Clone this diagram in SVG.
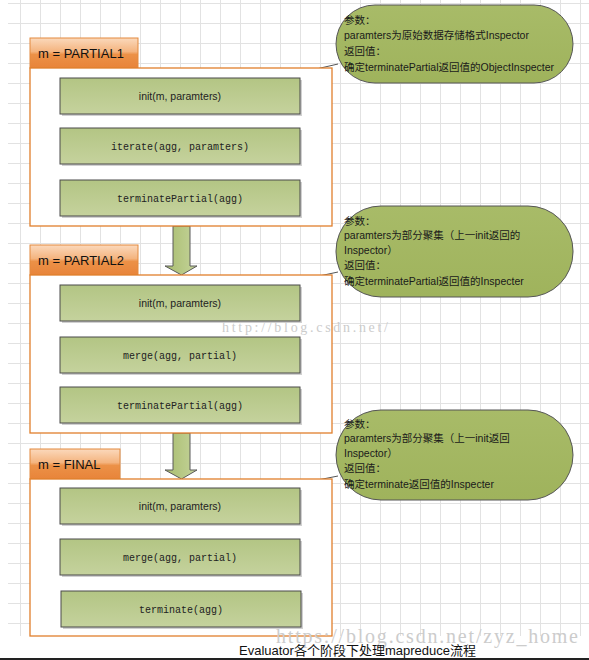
<svg xmlns="http://www.w3.org/2000/svg" width="589" height="660" viewBox="0 0 589 660">
<defs>
<pattern id="grid" x="0" y="3" width="20" height="20" patternUnits="userSpaceOnUse">
<path d="M0 0.5 H20 M0.5 0 V20" fill="none" stroke="#e2e2e2" stroke-width="1"/>
</pattern>
<linearGradient id="tabG" x1="0" y1="0" x2="0" y2="1">
<stop offset="0" stop-color="#fbd9bc"/>
<stop offset="0.45" stop-color="#f4b47f"/>
<stop offset="0.55" stop-color="#ec9147"/>
<stop offset="1" stop-color="#e8843a"/>
</linearGradient>
<linearGradient id="boxG" x1="0" y1="0" x2="0" y2="1">
<stop offset="0" stop-color="#b3c584"/>
<stop offset="1" stop-color="#c5d29d"/>
</linearGradient>
<linearGradient id="callG" x1="0" y1="0" x2="0" y2="1">
<stop offset="0" stop-color="#a8bb68"/>
<stop offset="1" stop-color="#9fb35c"/>
</linearGradient>
<linearGradient id="arrG" x1="0" y1="0" x2="1" y2="0">
<stop offset="0" stop-color="#a9bd6f"/>
<stop offset="1" stop-color="#c4d39a"/>
</linearGradient>
</defs>
<style>
.tab{fill:url(#tabG);stroke:#e38a3e;stroke-width:1}
.frame{fill:#ffffff;stroke:#e07f2c;stroke-width:1.3}
.tabt{font-family:"Liberation Sans","Noto Sans",sans-serif;font-size:13px;fill:#111}
.box{fill:url(#boxG);stroke:#4b4b4b;stroke-width:1}
.shadow{fill:#d0d0d0}
.mono{font-family:"Liberation Mono","DejaVu Sans Mono",monospace;font-size:10px;fill:#222;text-anchor:middle}
.sans{font-family:"Liberation Sans","Noto Sans",sans-serif;font-size:10.5px;fill:#222;text-anchor:middle}
.call{fill:url(#callG);stroke:#555;stroke-width:1}
.ct{font-family:"Liberation Sans","Noto Sans CJK SC",sans-serif;font-size:10.5px;fill:#1a1a1a}
.ptr{stroke:#555;stroke-width:1;fill:none}
.arr{fill:url(#arrG);stroke:#5a5a5a;stroke-width:1}
.wm{font-family:"Liberation Serif","DejaVu Serif",serif;fill:#cccccc}
.cap{font-family:"Liberation Sans","Noto Sans CJK SC",sans-serif;font-size:13px;fill:#111}
</style>
<rect x="0" y="0" width="589" height="660" fill="#ffffff"/>
<rect x="8" y="0" width="581" height="636" fill="url(#grid)"/>

<g id="connectors">
<path class="arr" d="M173 226 V266 H165 L181.5 275 L197 266 H190 V226 Z"/>
<path class="arr" d="M173 433 V470 H165 L181.5 479 L197 470 H190 V433 Z"/>
<path class="ptr" d="M277 78 L338 64"/>
<path class="ptr" d="M277 285 L338 272"/>
<path class="ptr" d="M277 488 L338 476"/>
</g>

<g id="stage1">
<rect class="tab" x="30" y="38" width="108" height="30"/>
<text class="tabt" x="38" y="58">m = PARTIAL1</text>
<rect class="frame" x="30" y="68" width="302" height="158"/>
</g>
<g id="s1-init">
<rect class="shadow" x="62" y="80" width="240" height="36"/>
<rect class="box" x="60" y="78" width="240" height="36"/>
<text class="sans" x="180" y="99.5">init(m, paramters)</text>
</g>
<g id="s1-iterate">
<rect class="shadow" x="62" y="130" width="240" height="36"/>
<rect class="box" x="60" y="128" width="240" height="36"/>
<text class="mono" x="180" y="149.5">iterate(agg, paramters)</text>
</g>
<g id="s1-term">
<rect class="shadow" x="62" y="182" width="240" height="36"/>
<rect class="box" x="60" y="180" width="240" height="36"/>
<text class="mono" x="180" y="201.5">terminatePartial(agg)</text>
</g>

<g id="stage2">
<rect class="tab" x="30" y="245" width="108" height="30"/>
<text class="tabt" x="38" y="265">m = PARTIAL2</text>
<rect class="frame" x="30" y="275" width="302" height="158"/>
</g>
<g id="s2-init">
<rect class="shadow" x="62" y="287" width="240" height="36"/>
<rect class="box" x="60" y="285" width="240" height="36"/>
<text class="sans" x="180" y="306.5">init(m, paramters)</text>
</g>
<g id="s2-merge">
<rect class="shadow" x="62" y="339" width="240" height="36"/>
<rect class="box" x="60" y="337" width="240" height="36"/>
<text class="mono" x="180" y="358.5">merge(agg, partial)</text>
</g>
<g id="s2-term">
<rect class="shadow" x="62" y="389" width="240" height="36"/>
<rect class="box" x="60" y="387" width="240" height="36"/>
<text class="mono" x="180" y="408.5">terminatePartial(agg)</text>
</g>

<g id="stage3">
<rect class="tab" x="30" y="449" width="90" height="30"/>
<text class="tabt" x="38" y="469">m = FINAL</text>
<rect class="frame" x="30" y="479" width="302" height="157"/>
</g>
<g id="s3-init">
<rect class="shadow" x="62" y="490" width="240" height="36"/>
<rect class="box" x="60" y="488" width="240" height="36"/>
<text class="sans" x="180" y="509.5">init(m, paramters)</text>
</g>
<g id="s3-merge">
<rect class="shadow" x="62" y="541" width="240" height="36"/>
<rect class="box" x="60" y="539" width="240" height="36"/>
<text class="mono" x="180" y="560.5">merge(agg, partial)</text>
</g>
<g id="s3-term">
<rect class="shadow" x="63" y="593" width="240" height="36"/>
<rect class="box" x="61" y="591" width="240" height="36"/>
<text class="mono" x="181" y="612.5">terminate(agg)</text>
</g>

<g id="callout1">
<rect class="call" x="336" y="5" width="237" height="78" rx="39" ry="39"/>
<text class="ct" x="344" y="24">参数：</text>
<text class="ct" x="344" y="39">paramters为原始数据存储格式Inspector</text>
<text class="ct" x="344" y="55">返回值：</text>
<text class="ct" x="344" y="71">确定terminatePartial返回值的ObjectInspecter</text>
</g>
<g id="callout2">
<rect class="call" x="336" y="206" width="237" height="91" rx="45" ry="45"/>
<text class="ct" x="344" y="225">参数：</text>
<text class="ct" x="344" y="239">paramters为部分聚集（上一init返回的</text>
<text class="ct" x="344" y="254">Inspector）</text>
<text class="ct" x="344" y="269">返回值：</text>
<text class="ct" x="344" y="285">确定terminatePartial返回值的Inspecter</text>
</g>
<g id="callout3">
<rect class="call" x="336" y="410" width="237" height="90" rx="45" ry="45"/>
<text class="ct" x="344" y="428">参数：</text>
<text class="ct" x="344" y="442">paramters为部分聚集（上一init返回</text>
<text class="ct" x="344" y="457">Inspector）</text>
<text class="ct" x="344" y="472">返回值：</text>
<text class="ct" x="344" y="488">确定terminate返回值的Inspecter</text>
</g>

<text class="wm" x="222" y="332" font-size="14" textLength="166" lengthAdjust="spacing">http://blog.csdn.net/</text>
<text class="wm" x="276" y="643" font-size="20" textLength="302" lengthAdjust="spacing">https://blog.csdn.net/zyz_home</text>
<text class="cap" x="239" y="655">Evaluator各个阶段下处理mapreduce流程</text>
<rect x="0" y="658" width="589" height="2" fill="#222"/>
</svg>
